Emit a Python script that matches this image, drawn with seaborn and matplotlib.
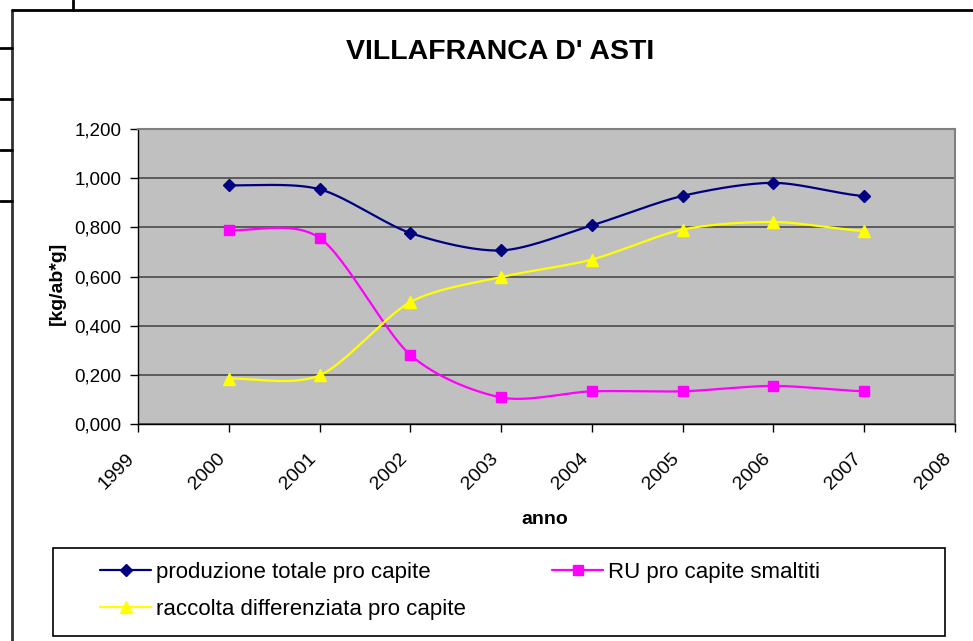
import numpy as np
import pandas as pd
import matplotlib
matplotlib.use("Agg")
import matplotlib.pyplot as plt
from matplotlib.lines import Line2D
from matplotlib.patches import Rectangle
import seaborn as sns

# ---------------- data ----------------
years = [2000, 2001, 2002, 2003, 2004, 2005, 2006, 2007]
produzione = [0.971, 0.955, 0.777, 0.706, 0.808, 0.928, 0.981, 0.927]
ru_smaltiti = [0.788, 0.757, 0.281, 0.108, 0.133, 0.133, 0.155, 0.133]
raccolta = [0.185, 0.198, 0.496, 0.598, 0.669, 0.791, 0.822, 0.785]
series_names = ["produzione totale pro capite", "RU pro capite smaltiti",
                "raccolta differenziata pro capite"]
y_ticks = [0.0, 0.2, 0.4, 0.6, 0.8, 1.0, 1.2]
x_ticks = [1999, 2000, 2001, 2002, 2003, 2004, 2005, 2006, 2007, 2008]

colors = ["#000080", "#FF00FF", "#FFFF00"]
markers = ["D", "s", "^"]
msizes = [6.5, 7.5, 9]

sns.set_style("white")
plt.rcParams["font.family"] = ["Liberation Sans", "DejaVu Sans"]
plt.rcParams["text.color"] = "black"
plt.rcParams["axes.labelcolor"] = "black"
plt.rcParams["xtick.color"] = "black"
plt.rcParams["ytick.color"] = "black"

def smooth(x, y, n=30, tension=0.85):
    """Cardinal-spline rendering of a line through the data points (Excel 'smoothed line')."""
    x = np.asarray(x, float); y = np.asarray(y, float)
    px = np.concatenate([[2 * x[0] - x[1]], x, [2 * x[-1] - x[-2]]])
    py = np.concatenate([[y[0]], y, [y[-1]]])
    xs, ys = [], []
    t = np.linspace(0, 1, n, endpoint=False)[:, None]
    for i in range(1, len(px) - 2):
        p0, p1, p2, p3 = [np.array([px[j], py[j]]) for j in (i - 1, i, i + 1, i + 2)]
        m1 = tension * 0.5 * (p2 - p0)
        m2 = tension * 0.5 * (p3 - p1)
        h00 = 2 * t**3 - 3 * t**2 + 1
        h10 = t**3 - 2 * t**2 + t
        h01 = -2 * t**3 + 3 * t**2
        h11 = t**3 - t**2
        pts = h00 * p1 + h10 * m1 + h01 * p2 + h11 * m2
        xs.extend(pts[:, 0]); ys.extend(pts[:, 1])
    xs.append(x[-1]); ys.append(y[-1])
    return np.array(xs), np.array(ys)

W, H = 973, 641
fig = plt.figure(figsize=(W / 100, H / 100), dpi=100)
fig.patch.set_facecolor("white")

ax = fig.add_axes([138 / W, 1 - 424 / H, (955 - 138) / W, (424 - 129) / H])
ax.set_facecolor("#C0C0C0")

points = pd.DataFrame({
    "anno": years * 3,
    "valore": produzione + ru_smaltiti + raccolta,
    "serie": [series_names[0]] * 8 + [series_names[1]] * 8 + [series_names[2]] * 8,
})
curves = []
for name, vals in zip(series_names, [produzione, ru_smaltiti, raccolta]):
    sx, sy = smooth(years, vals)
    curves.append(pd.DataFrame({"anno": sx, "valore": sy, "serie": name}))
curves = pd.concat(curves, ignore_index=True)

palette = dict(zip(series_names, colors))
sns.lineplot(data=curves, x="anno", y="valore", hue="serie", palette=palette,
             linewidth=1.6, ax=ax, legend=False, sort=False, estimator=None, zorder=3)
for name, m, ms in zip(series_names, markers, msizes):
    sub = points[points["serie"] == name]
    ax.plot(sub["anno"], sub["valore"], linestyle="none", marker=m, markersize=ms,
            color=palette[name], markeredgecolor=palette[name], zorder=4)

ax.set_xlim(1999, 2008)
ax.set_ylim(0, 1.2)
ax.set_yticks(y_ticks)
ax.set_yticklabels([f"{v:.3f}".replace(".", ",") for v in y_ticks], fontsize=13.5)
ax.set_xticks(x_ticks)
ax.set_xticklabels([str(v) for v in x_ticks], fontsize=14, rotation=45,
                   ha="right", va="top")
ax.tick_params(axis="both", direction="out", length=6, width=1, color="black",
               bottom=True, left=True)
ax.tick_params(axis="x", pad=13)
ax.tick_params(axis="y", pad=6)
ax.grid(axis="y", color="#404040", linewidth=1.1)
ax.grid(axis="x", visible=False)
ax.set_axisbelow(True)
for s in ["top", "right"]:
    ax.spines[s].set_color("#808080")
    ax.spines[s].set_linewidth(1.5)
for s in ["left", "bottom"]:
    ax.spines[s].set_color("black")
    ax.spines[s].set_linewidth(1.0)

ax.set_xlabel("")
ax.set_ylabel("")
fig.text(57 / W, 1 - 283 / H, "[kg/ab*g]", rotation=90, fontsize=14,
         fontweight="bold", ha="center", va="center")
fig.text(545 / W, 1 - 520 / H, "anno", fontsize=14, fontweight="bold",
         ha="center", va="center")
fig.text(500 / W, 1 - 52 / H, "VILLAFRANCA D' ASTI", fontsize=20.5,
         fontweight="bold", ha="center", va="center")

# legend frame
fig.add_artist(Rectangle((53 / W, 1 - 636 / H), (945 - 53) / W, (636 - 548) / H,
                         transform=fig.transFigure, fill=False, edgecolor="black",
                         linewidth=1.2))
handles = [Line2D([], [], color=c, marker=m, markersize=ms * 0.9, linewidth=1.6)
           for c, m, ms in zip(colors, markers, msizes)]
order = [0, 2, 1]
leg = fig.legend([handles[i] for i in order], [series_names[i] for i in order],
                 loc="upper left", bbox_to_anchor=(100 / W, 1 - 562 / H),
                 ncol=2, frameon=False, fontsize=16, handlelength=2.3,
                 handletextpad=0.2, columnspacing=3.9, labelspacing=0.7,
                 borderpad=0, borderaxespad=0)

# surrounding spreadsheet cell borders
lw = 2.0
fig.add_artist(Line2D([12 / W, 12 / W], [0, 1 - 10 / H], color="#333333", linewidth=lw,
                      transform=fig.transFigure))
fig.add_artist(Line2D([12 / W, 1], [1 - 10 / H, 1 - 10 / H], color="black", linewidth=lw,
                      transform=fig.transFigure))
fig.add_artist(Line2D([73 / W, 73 / W], [1 - 10 / H, 1], color="black", linewidth=lw,
                      transform=fig.transFigure))
for yy in [48, 99, 150, 201]:
    fig.add_artist(Line2D([0, 12 / W], [1 - yy / H, 1 - yy / H], color="black",
                          linewidth=lw, transform=fig.transFigure))

fig.savefig("out.png", dpi=100, facecolor="white")
